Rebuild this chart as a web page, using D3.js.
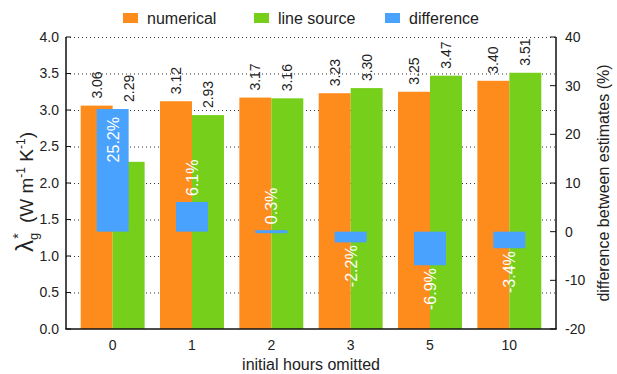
<!DOCTYPE html>
<html>
<head>
<meta charset="utf-8">
<script src="https://cdn.jsdelivr.net/npm/d3@7"></script>
<style>
  body { margin: 0; background: #fff; }
  svg { font-family: "Liberation Sans", Arial, Helvetica, sans-serif; }
</style>
</head>
<body>
<svg id="chart" width="617" height="374"></svg>
<script>
var categories = ['0', '1', '2', '3', '5', '10'];
var numerical = [3.06, 3.12, 3.17, 3.23, 3.25, 3.40];
var lineSource = [2.29, 2.93, 3.16, 3.30, 3.47, 3.51];
var difference = [25.2, 6.1, 0.3, -2.2, -6.9, -3.4];
var leftTicks = [0, 0.5, 1, 1.5, 2, 2.5, 3, 3.5, 4];
var rightTicks = [-20, -10, 0, 10, 20, 30, 40];

var colors = { num: '#fe8c1c', line: '#76cf1a', diff: '#49a3fe' };

var svg = d3.select('#chart');
var pLeft = 66, pRight = 556, pTop = 37, pBottom = 329;

var x = d3.scaleBand().domain(categories).range([pLeft, pRight])
	.paddingInner(0.194).paddingOuter(0.185);
var sub = d3.scaleBand().domain(['num', 'line']).range([0, x.bandwidth()]);
var y = d3.scaleLinear().domain([0, 4]).range([pBottom, pTop]);
var y2 = d3.scaleLinear().domain([-20, 40]).range([pBottom, pTop]);

// dotted grid
svg.append('g').selectAll('line')
	.data(leftTicks.slice(1))
	.enter().append('line')
		.attr('x1', pLeft).attr('x2', pRight)
		.attr('y1', function (d) { return y(d) + 0.5; })
		.attr('y2', function (d) { return y(d) + 0.5; })
		.attr('stroke', '#333')
		.attr('stroke-width', 1)
		.attr('stroke-dasharray', '1,3');

var groups = svg.append('g').selectAll('g')
	.data(categories)
	.enter().append('g')
		.attr('transform', function (d) { return 'translate(' + x(d) + ',0)'; });

groups.append('rect')
	.attr('x', sub('num'))
	.attr('width', sub.bandwidth())
	.attr('y', function (d, i) { return y(numerical[i]); })
	.attr('height', function (d, i) { return y(0) - y(numerical[i]); })
	.attr('fill', colors.num);

groups.append('rect')
	.attr('x', sub('line'))
	.attr('width', sub.bandwidth())
	.attr('y', function (d, i) { return y(lineSource[i]); })
	.attr('height', function (d, i) { return y(0) - y(lineSource[i]); })
	.attr('fill', colors.line);

// value labels (kept clear of the blue bar when it sticks out above)
function valueLabel(sel, key, vals) {
	sel.append('text')
		.attr('transform', function (d, i) {
			var top = y(vals[i]);
			if (difference[i] > 0) top = Math.min(top, y2(difference[i]));
			return 'translate(' + (sub(key) + sub.bandwidth() / 2 + 5) + ',' + (top - 7) + ') rotate(-90)';
		})
		.attr('font-size', 14)
		.attr('fill', '#222')
		.text(function (d, i) { return vals[i].toFixed(2); });
}
valueLabel(groups, 'num', numerical);
valueLabel(groups, 'line', lineSource);

// difference bars
var dw = sub.bandwidth();
groups.append('rect')
	.attr('x', x.bandwidth() / 2 - dw / 2)
	.attr('width', dw)
	.attr('y', function (d, i) { return Math.min(y2(difference[i]), y2(0)); })
	.attr('height', function (d, i) { return Math.max(Math.abs(y2(difference[i]) - y2(0)), 3); })
	.attr('fill', colors.diff);

groups.append('text')
	.attr('transform', function (d, i) {
		var v = difference[i], py;
		if (v > 15) py = y2(v) + 8;
		else if (v >= 0) py = y2(v) - 6;
		else py = y2(v) + 3;
		return 'translate(' + (x.bandwidth() / 2 + 6) + ',' + py + ') rotate(-90)';
	})
	.attr('text-anchor', function (d, i) {
		var v = difference[i];
		return (v > 15 || v < 0) ? 'end' : 'start';
	})
	.attr('font-size', 16)
	.attr('fill', '#fff')
	.text(function (d, i) { return difference[i].toFixed(1) + '%'; });

// axes lines
var axisG = svg.append('g').attr('stroke', '#111').attr('stroke-width', 1.5);
axisG.append('line').attr('x1', pLeft).attr('x2', pLeft).attr('y1', pTop).attr('y2', pBottom);
axisG.append('line').attr('x1', pRight).attr('x2', pRight).attr('y1', pTop).attr('y2', pBottom);
axisG.append('line').attr('x1', pLeft - 0.75).attr('x2', pRight + 0.75).attr('y1', pBottom).attr('y2', pBottom);

// left ticks
svg.append('g').selectAll('text')
	.data(leftTicks)
	.enter().append('text')
		.attr('x', pLeft - 7)
		.attr('y', function (d) { return y(d); })
		.attr('dy', '0.35em')
		.attr('text-anchor', 'end')
		.attr('font-size', 14)
		.attr('fill', '#222')
		.text(function (d) { return d.toFixed(1); });

svg.append('g').selectAll('line')
	.data(leftTicks)
	.enter().append('line')
		.attr('x1', pLeft).attr('x2', pLeft + 5)
		.attr('y1', function (d) { return y(d); })
		.attr('y2', function (d) { return y(d); })
		.attr('stroke', '#111');

// right ticks
svg.append('g').selectAll('text')
	.data(rightTicks)
	.enter().append('text')
		.attr('x', pRight + 9)
		.attr('y', function (d) { return y2(d); })
		.attr('dy', '0.35em')
		.attr('font-size', 14)
		.attr('fill', '#222')
		.text(function (d) { return d; });

svg.append('g').selectAll('line')
	.data(rightTicks)
	.enter().append('line')
		.attr('x1', pRight - 6).attr('x2', pRight)
		.attr('y1', function (d) { return y2(d); })
		.attr('y2', function (d) { return y2(d); })
		.attr('stroke', '#111');

// x tick labels
svg.append('g').selectAll('text')
	.data(categories)
	.enter().append('text')
		.attr('x', function (d) { return x(d) + x.bandwidth() / 2; })
		.attr('y', 350)
		.attr('text-anchor', 'middle')
		.attr('font-size', 14)
		.attr('fill', '#222')
		.text(function (d) { return d; });

svg.append('text')
	.attr('x', (pLeft + pRight) / 2)
	.attr('y', 370)
	.attr('text-anchor', 'middle')
	.attr('font-size', 16)
	.attr('fill', '#222')
	.text('initial hours omitted');

// left title
var lt = svg.append('text')
	.attr('transform', 'translate(33,192) rotate(-90)')
	.attr('text-anchor', 'middle')
	.attr('font-size', 19)
	.attr('fill', '#222');
lt.append('tspan').attr('font-size', 24).text('λ');
lt.append('tspan').attr('font-size', 13).attr('dy', 5).text('g');
lt.append('tspan').attr('font-size', 14).attr('dy', -15).attr('dx', -6).text('*');
lt.append('tspan').attr('dy', 10).attr('dx', 5).text(' (W m');
lt.append('tspan').attr('font-size', 12).attr('dy', -8).text('-1');
lt.append('tspan').attr('dy', 8).text(' K');
lt.append('tspan').attr('font-size', 12).attr('dy', -8).text('-1');
lt.append('tspan').attr('dy', 8).text(')');

// right title
svg.append('text')
	.attr('transform', 'translate(609,' + ((pTop + pBottom) / 2) + ') rotate(-90)')
	.attr('text-anchor', 'middle')
	.attr('font-size', 16)
	.attr('fill', '#222')
	.text('difference between estimates (%)');

// legend
var legendItems = [
	{ label: 'numerical', color: colors.num, x: 123 },
	{ label: 'line source', color: colors.line, x: 254 },
	{ label: 'difference', color: colors.diff, x: 385 }
];
var lg = svg.append('g').selectAll('g')
	.data(legendItems)
	.enter().append('g')
		.attr('transform', function (d) { return 'translate(' + d.x + ',13)'; });
lg.append('rect').attr('width', 15).attr('height', 10).attr('fill', function (d) { return d.color; });
lg.append('text')
	.attr('x', 24).attr('y', 5).attr('dy', '0.35em')
	.attr('font-size', 16).attr('fill', '#222')
	.text(function (d) { return d.label; });
</script>
</body>
</html>
